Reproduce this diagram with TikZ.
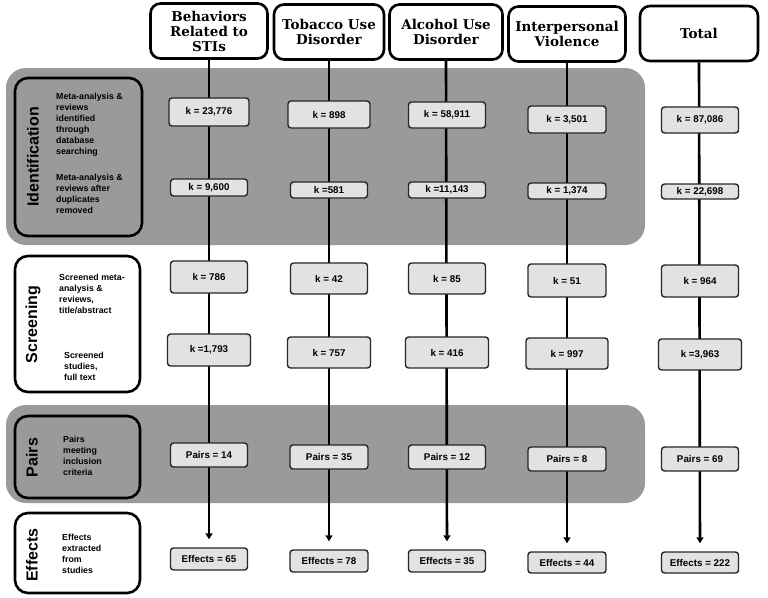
\documentclass[tikz,border=0pt]{standalone}
\usepackage{fontspec}
\setmainfont{Liberation Sans}
\newfontfamily\headfont{DejaVu Serif}
\usetikzlibrary{arrows.meta}
\pgfdeclarelayer{back}
\pgfdeclarelayer{bands}
\pgfdeclarelayer{lines}
\pgfsetlayers{back,bands,lines,main}
\definecolor{bandgray}{HTML}{9A9A9A}
\definecolor{boxgray}{HTML}{E2E2E2}
\begin{document}
\begin{tikzpicture}[x=1pt,y=-1pt,
 head/.style={draw=black, line width=2.6pt, fill=white, rounded corners=10pt, align=center,
   font=\headfont\bfseries\fontsize{13.5}{15}\selectfont, inner sep=0pt, minimum height=55pt},
 kbox/.style={draw=black!85, line width=1.4pt, fill=boxgray, rounded corners=3pt,
   font=\bfseries\fontsize{9.8}{10}\selectfont, inner sep=0pt, minimum width=77pt},
 stage/.style={draw=black, line width=2.6pt, rounded corners=13pt, inner sep=0pt},
 stagename/.style={rotate=90, font=\bfseries\fontsize{16}{16}\selectfont, inner sep=0pt},
 desc/.style={align=left, anchor=west, font=\bfseries\fontsize{8.8}{11}\selectfont, inner sep=0pt},
 band/.style={fill=bandgray, rounded corners=20pt},
 flow/.style={line width=2.6pt, draw=black},
 tip/.style={-{Triangle[width=7pt,length=6pt]}, shorten >=8pt},
]
\useasboundingbox (0,0) rectangle (768,597);
\begin{pgfonlayer}{back}
\fill[white] (0,0) rectangle (768,597);
\end{pgfonlayer}

% bands
\begin{pgfonlayer}{bands}
\fill[band] (6,68) rectangle (645,245);
\fill[band] (6,405) rectangle (645,503);
\end{pgfonlayer}

% headers
\node[head, minimum width=117pt] (h1) at (209,31) {Behaviors\\Related to\\STIs};
\node[head, minimum width=110pt] (h2) at (329,32) {Tobacco Use\\Disorder};
\node[head, minimum width=113pt] (h3) at (446,32) {Alcohol Use\\Disorder};
\node[head, minimum width=117pt] (h4) at (567,34) {Interpersonal\\Violence};
\node[head, minimum width=118pt] (h5) at (699,33.5) {Total};

% stage boxes
\node[stage, fill=bandgray, minimum width=127pt, minimum height=158pt] (sid) at (78.5,157) {};
\node[stage, fill=white, minimum width=125pt, minimum height=136pt] (ssc) at (77.5,324) {};
\node[stage, fill=bandgray, minimum width=125pt, minimum height=82pt] (spa) at (77.5,457) {};
\node[stage, fill=white, minimum width=125pt, minimum height=80pt] (sef) at (77.5,553) {};

\node[stagename] (tid) at (33,157) {Identification};
\node[stagename] (tsc) at (33,324.5) {Screening};
\node[stagename] (tpa) at (32,457.5) {Pairs};
\node[stagename] (tef) at (32,555) {Effects};

\node[desc] (d1) at (56,124.5) {Meta-analysis \&\\reviews\\identified\\through\\database\\searching};
\node[desc] (d2) at (56,193.5) {Meta-analysis \&\\reviews after\\duplicates\\removed};
\node[desc] (d3) at (59,294) {Screened meta-\\analysis \&\\reviews,\\title/abstract};
\node[desc] (d4) at (64,366) {Screened\\studies,\\full text};
\node[desc] (d5) at (63,455.5) {Pairs\\meeting\\inclusion\\criteria};
\node[desc] (d6) at (62,554) {Effects\\extracted\\from\\studies};

% row 1
\node[kbox, minimum width=80pt, minimum height=28pt] (a1) at (209,112) {k = 23,776};
\node[kbox, minimum width=82pt, minimum height=27pt] (a2) at (329,114.5) {k = 898};
\node[kbox, minimum height=26pt] (a3) at (447,115) {k = 58,911};
\node[kbox, minimum width=78pt, minimum height=27pt] (a4) at (567,119.5) {k = 3,501};
\node[kbox, minimum height=26pt] (a5) at (700,120) {k = 87,086};
% row 2
\node[kbox, minimum height=17pt] (b1) at (209,187.5) {k = 9,600};
\node[kbox, minimum height=16pt] (b2) at (329,190) {k =581};
\node[kbox, minimum height=16pt] (b3) at (447,190) {k =11,143};
\node[kbox, minimum width=78pt, minimum height=16pt] (b4) at (567,191) {k = 1,374};
\node[kbox, minimum height=15pt] (b5) at (700,191.5) {k = 22,698};
% row 3
\node[kbox, minimum height=32pt] (c1) at (209,277) {k = 786};
\node[kbox, minimum height=31pt] (c2) at (329,278.5) {k = 42};
\node[kbox, minimum height=31pt] (c3) at (447,278.5) {k = 85};
\node[kbox, minimum width=78pt, minimum height=33pt] (c4) at (567,280.5) {k = 51};
\node[kbox, minimum height=32pt] (c5) at (700,281) {k = 964};
% row 4
\node[kbox, minimum width=83pt, minimum height=32pt] (e1) at (209,350) {k =1,793};
\node[kbox, minimum width=83pt, minimum height=31pt] (e2) at (329,352.5) {k = 757};
\node[kbox, minimum width=83pt, minimum height=31pt] (e3) at (447,352.5) {k = 416};
\node[kbox, minimum width=82pt, minimum height=31pt] (e4) at (567,353.5) {k = 997};
\node[kbox, minimum width=83pt, minimum height=31pt] (e5) at (700,354.5) {k =3,963};
% row 5
\node[kbox, minimum height=24pt] (p1) at (209,455) {Pairs = 14};
\node[kbox, minimum width=78pt, minimum height=24pt] (p2) at (329,457) {Pairs = 35};
\node[kbox, minimum height=24pt] (p3) at (447,457) {Pairs = 12};
\node[kbox, minimum width=78pt, minimum height=24pt] (p4) at (567,459) {Pairs = 8};
\node[kbox, minimum height=24pt] (p5) at (700,459) {Pairs = 69};
% row 6
\node[kbox, minimum height=22pt] (f1) at (209,559) {Effects = 65};
\node[kbox, minimum width=78pt, minimum height=22pt] (f2) at (329,561) {Effects = 78};
\node[kbox, minimum height=22pt] (f3) at (447,561) {Effects = 35};
\node[kbox, minimum width=78pt, minimum height=21pt] (f4) at (567,562.5) {Effects = 44};
\node[kbox, minimum height=21pt] (f5) at (700,562.5) {Effects = 222};

% connectors
\begin{pgfonlayer}{lines}
\foreach \c in {1,...,5}{
  \draw[flow, tip] (h\c.south) -- (f\c.north);
}
\end{pgfonlayer}
\end{tikzpicture}
\end{document}
